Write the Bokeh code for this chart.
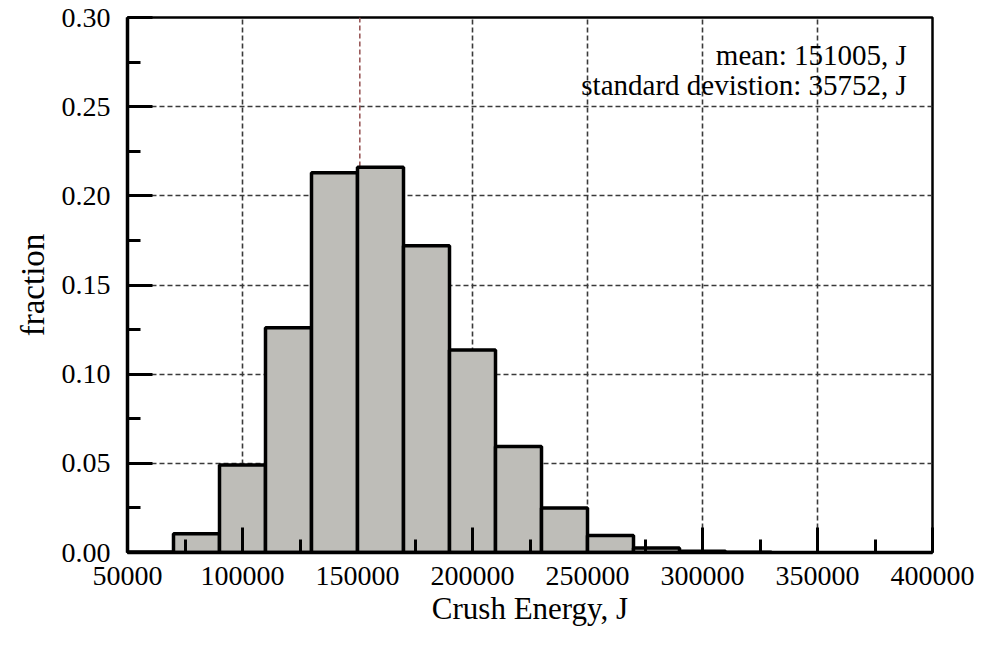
from bokeh.plotting import figure
from bokeh.models import (ColumnDataSource, Span, Label, PrintfTickFormatter,
                          FixedTicker, Range1d)
from bokeh.embed import file_html
from bokeh.resources import INLINE

# ---- data ----
bin_left = [50000, 70000, 90000, 110000, 130000, 150000, 170000, 190000,
            210000, 230000, 250000, 270000, 290000, 310000]
bin_right = [70000, 90000, 110000, 130000, 150000, 170000, 190000, 210000,
             230000, 250000, 270000, 290000, 310000, 330000]
fraction = [0.0003, 0.0105, 0.049, 0.126, 0.213, 0.216, 0.172, 0.1135,
            0.0595, 0.025, 0.0095, 0.0025, 0.0007, 0.0002]
mean_energy = 151005
std_energy = 35752
x_ticks = [50000, 100000, 150000, 200000, 250000, 300000, 350000, 400000]
x_minor = [75000, 125000, 175000, 225000, 275000, 325000, 375000]
y_ticks = [0.0, 0.05, 0.10, 0.15, 0.20, 0.25, 0.30]
y_minor = [0.025, 0.075, 0.125, 0.175, 0.225, 0.275]

FONT = "Liberation Serif"

src = ColumnDataSource(dict(left=bin_left, right=bin_right,
                            top=fraction, bottom=[0] * len(fraction)))

p = figure(width=974, height=638, output_backend="svg", toolbar_location=None,
           x_range=Range1d(50000, 400000), y_range=Range1d(0, 0.30),
           min_border_left=127, min_border_right=42, min_border_top=17,
           min_border_bottom=86)

p.quad(left="left", right="right", top="top", bottom="bottom", source=src,
       fill_color="#bebdb8", line_color="black", line_width=3.5)

p.add_layout(Span(location=mean_energy, dimension="height",
                  line_color="#9a5a5a", line_dash="5 3", line_width=1.6,
                  level="underlay"))

# grids
p.xgrid.ticker = FixedTicker(ticks=[t for t in x_ticks if t != 150000])
p.ygrid.ticker = FixedTicker(ticks=y_ticks)
for g in (p.xgrid, p.ygrid):
    g.grid_line_color = "#3a3a3a"
    g.grid_line_dash = "5 3"
    g.grid_line_width = 1.6

# axes
p.xaxis.ticker = FixedTicker(ticks=x_ticks, minor_ticks=x_minor)
p.yaxis.ticker = FixedTicker(ticks=y_ticks, minor_ticks=y_minor)
p.xaxis.formatter = PrintfTickFormatter(format="%d")
p.yaxis.formatter = PrintfTickFormatter(format="%.2f")

for ax in (p.xaxis[0], p.yaxis[0]):
    ax.axis_line_width = 3.5
    ax.axis_line_color = "black"
    ax.major_tick_in = 25
    ax.major_tick_out = 0
    ax.minor_tick_in = 13
    ax.minor_tick_out = 0
    ax.major_tick_line_width = 3
    ax.minor_tick_line_width = 3
    ax.major_tick_line_color = "black"
    ax.minor_tick_line_color = "black"
    ax.major_label_text_font = FONT
    ax.major_label_text_font_size = "28px"
    ax.major_label_text_color = "black"
    ax.axis_label_text_font = FONT
    ax.axis_label_text_font_style = "normal"
    ax.axis_label_text_color = "black"

p.xaxis.axis_label = "Crush Energy, J"
p.xaxis.axis_label_text_font_size = "31px"
p.xaxis.major_label_standoff = 14
p.xaxis.axis_label_standoff = 3

p.yaxis.axis_label = "fraction"
p.yaxis.axis_label_text_font_size = "33px"
p.yaxis.major_label_standoff = 17
p.yaxis.axis_label_standoff = 8

p.outline_line_color = "black"
p.outline_line_width = 2.5
p.outline_line_alpha = 1.0

p.add_layout(Label(x=388800, y=0.2789, text=f"mean: {mean_energy}, J",
                   text_align="right", text_baseline="alphabetic",
                   text_font=FONT, text_font_size="29px", text_color="black"))
p.add_layout(Label(x=388800, y=0.2622,
                   text=f"standard devistion: {std_energy}, J",
                   text_align="right", text_baseline="alphabetic",
                   text_font=FONT, text_font_size="29px", text_color="black"))

p.background_fill_color = "white"
p.border_fill_color = "white"

open("out.html", "w").write(file_html(p, INLINE))
